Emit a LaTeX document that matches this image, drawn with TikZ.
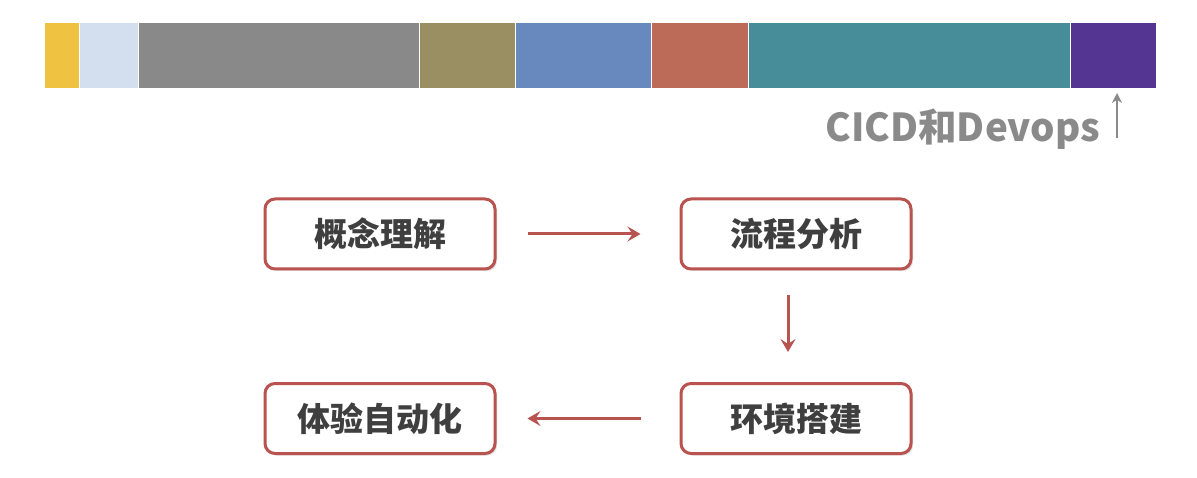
\documentclass[tikz,border=0pt]{standalone}
\usepackage{fontspec}
\newfontfamily\cjk{Noto Sans CJK SC}
\usetikzlibrary{arrows.meta,shadows}
\definecolor{cYel}{HTML}{F0C242}
\definecolor{cLb}{HTML}{D3DFEF}
\definecolor{cGr}{HTML}{898989}
\definecolor{cOl}{HTML}{9A8F62}
\definecolor{cBl}{HTML}{6789BE}
\definecolor{cRd}{HTML}{BC6B59}
\definecolor{cTe}{HTML}{478D99}
\definecolor{cPu}{HTML}{553592}
\definecolor{cBorder}{HTML}{B9534F}
\definecolor{cText}{HTML}{3F3F3F}
\definecolor{cLabel}{HTML}{8A8A8A}
\tikzset{
  seg/.style={rectangle, inner sep=0pt, minimum height=65pt, anchor=west},
  procbox/.style={rectangle, rounded corners=10pt, draw=cBorder, line width=3pt, fill=white,
    minimum width=230pt, minimum height=70pt, text=cText,
    font=\cjk\bfseries\fontsize{33}{36}\selectfont,
    drop shadow={shadow xshift=2pt, shadow yshift=-2pt, fill=black!25, opacity=0.5}},
  flow/.style={draw=cBorder, line width=3pt, -{Stealth[length=13pt,width=15pt,inset=5pt]}},
  pointer/.style={draw=cLabel, line width=2.8pt, -{Stealth[length=10pt,width=10pt]}},
}
\begin{document}
\begin{tikzpicture}[x=1pt,y=-1pt]
\useasboundingbox (0,0) rectangle (1197,478);
% progress bar
\node[seg, fill=cYel, minimum width=34pt] (s1) at (45,55.5) {};
\node[seg, fill=cLb, minimum width=57.5pt] (s2) at (80,55.5) {};
\node[seg, fill=cGr, minimum width=280pt] (s3) at (138.5,55.5) {};
\node[seg, fill=cOl, minimum width=95.5pt] (s4) at (419.5,55.5) {};
\node[seg, fill=cBl, minimum width=135pt] (s5) at (516,55.5) {};
\node[seg, fill=cRd, minimum width=95.5pt] (s6) at (652,55.5) {};
\node[seg, fill=cTe, minimum width=321.5pt] (s7) at (748.5,55.5) {};
\node[seg, fill=cPu, minimum width=85pt] (s8) at (1071,55.5) {};
% label
\node[text=cLabel, font=\cjk\bfseries\fontsize{38.5}{42}\selectfont, anchor=east, inner sep=0pt] (lbl) at (1100,129) {CICD和Devops};
\coordinate (ptail) at (1117,138);
\draw[pointer] (ptail) -- (ptail |- 0,93);
% process boxes
\node[procbox] (a) at (380,234) {概念理解};
\node[procbox] (b) at (796,234) {流程分析};
\node[procbox] (c) at (796,418.5) {环境搭建};
\node[procbox] (d) at (380,418.5) {体验自动化};
\draw[flow, shorten <=31pt, shorten >=39pt] (a.east) -- (b.west);
\draw[flow, shorten <=25pt, shorten >=30pt] ([xshift=-8pt]b.south) -- ([xshift=-8pt]c.north);
\draw[flow, shorten <=39pt, shorten >=31pt] (c.west) -- (d.east);
\end{tikzpicture}
\end{document}
